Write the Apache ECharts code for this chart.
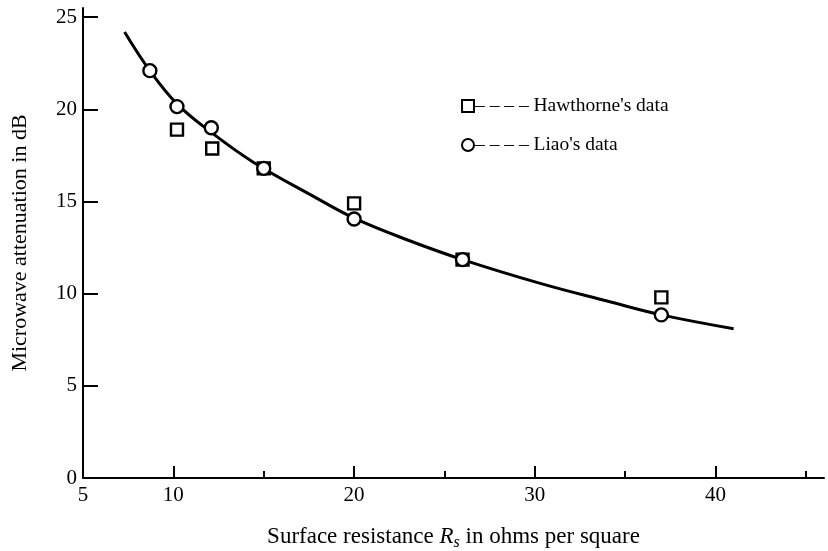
<!DOCTYPE html>
<html>
<head>
<meta charset="utf-8">
<script src="https://cdn.jsdelivr.net/npm/echarts@6/dist/echarts.min.js"></script>
<style>
html,body{margin:0;padding:0;background:#fff;}
#chart{width:828px;height:551px;}
</style>
</head>
<body>
<div id="chart"></div>
<script>
// Data
const hawthorneX = [10.2, 12.15, 15, 20, 26, 37];
const hawthorneY = [18.9, 17.88, 16.8, 14.9, 11.85, 9.8];
const liaoX = [8.7, 10.2, 12.1, 15, 20, 26, 37];
const liaoY = [22.1, 20.15, 19.0, 16.8, 14.05, 11.85, 8.85];
const curveX = [7.3, 8.7, 10.2, 12.1, 14.4, 17.9, 20, 23, 26, 30.3, 34, 37, 41];
const curveY = [24.2, 22.1, 20.3, 18.75, 17.15, 15.2, 14.1, 12.9, 11.85, 10.56, 9.6, 8.85, 8.1];
const xLabelValues = [5, 10, 20, 30, 40];
const xMajorTicks = [10, 20, 30, 40];
const xMinorTicks = [15, 25, 35, 45];
const yTicks = [0, 5, 10, 15, 20, 25];

const zip = (a, b) => a.map((v, i) => [v, b[i]]);
const font = '"Liberation Serif", "DejaVu Serif", serif';

const chart = echarts.init(document.getElementById('chart'), null, {renderer: 'canvas'});
chart.setOption({
  animation: false,
  backgroundColor: '#fff',
  textStyle: {fontFamily: font, color: '#000'},
  grid: {left: 83, right: 4, top: 8, bottom: 73, containLabel: false, outerBoundsMode: 'none'},
  legend: {
    orient: 'vertical',
    left: 461,
    top: 96,
    padding: 0,
    itemWidth: 12,
    itemHeight: 12,
    itemGap: 19,
    data: ["Hawthorne's data", "Liao's data"],
    formatter: n => '{d|\u2013 \u2013 \u2013 \u2013} ' + n,
    textStyle: {
      fontFamily: font, fontSize: 19.5, color: '#000',
      rich: {d: {fontFamily: font, fontSize: 19.5, color: '#000', padding: [0, 0, 0, -4]}}
    }
  },
  xAxis: [{
    type: 'value', min: 5, max: 46, interval: 5,
    axisLine: {lineStyle: {color: '#000', width: 2}},
    axisTick: {inside: true, length: 12, customValues: xMajorTicks, lineStyle: {color: '#000', width: 2}},
    axisLabel: {customValues: xLabelValues, fontFamily: font, fontSize: 21, color: '#000', margin: 7},
    splitLine: {show: false},
    name: '{n|Surface resistance }{r|R}{s|s}{n| in ohms per square}',
    nameLocation: 'middle', nameGap: 45,
    nameTextStyle: {
      rich: {
        n: {fontFamily: font, fontSize: 23, color: '#000'},
        r: {fontFamily: font, fontSize: 23, fontStyle: 'italic', color: '#000'},
        s: {fontFamily: font, fontSize: 16, fontStyle: 'italic', color: '#000', padding: [12, 0, 0, 0]}
      }
    }
  }, {
    type: 'value', min: 5, max: 46, interval: 5, position: 'bottom', gridIndex: 0,
    axisLine: {show: false},
    axisTick: {inside: true, length: 7, customValues: xMinorTicks, lineStyle: {color: '#000', width: 2}},
    axisLabel: {show: false},
    splitLine: {show: false}
  }],
  yAxis: {
    type: 'value', min: 0, max: 25.5, interval: 5,
    axisLine: {show: true, lineStyle: {color: '#000', width: 2}},
    axisTick: {show: true, inside: true, length: 15, customValues: yTicks, lineStyle: {color: '#000', width: 2}},
    axisLabel: {customValues: yTicks, fontFamily: font, fontSize: 21, color: '#000', margin: 6},
    splitLine: {show: false},
    name: 'Microwave attenuation in dB',
    nameLocation: 'middle', nameGap: 52,
    nameTextStyle: {fontFamily: font, fontSize: 22, color: '#000'}
  },
  series: [{
    type: 'line',
    name: 'fit',
    data: zip(curveX, curveY),
    smooth: 0.4,
    showSymbol: false,
    lineStyle: {color: '#000', width: 3},
    z: 1
  }, {
    type: 'scatter',
    name: "Hawthorne's data",
    data: zip(hawthorneX, hawthorneY),
    symbol: 'rect',
    symbolSize: 12,
    itemStyle: {color: '#fff', borderColor: '#000', borderWidth: 2.4, opacity: 1},
    z: 3
  }, {
    type: 'scatter',
    name: "Liao's data",
    data: zip(liaoX, liaoY),
    symbol: 'circle',
    symbolSize: 13,
    itemStyle: {color: '#fff', borderColor: '#000', borderWidth: 2.4, opacity: 1},
    z: 4
  }]
});
</script>
</body>
</html>
